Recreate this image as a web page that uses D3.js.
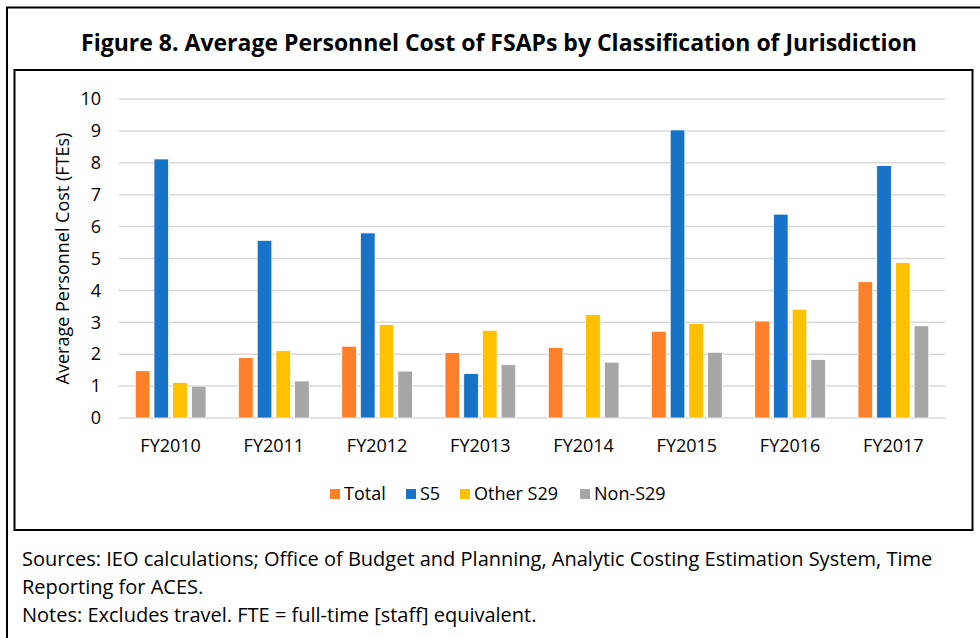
<!DOCTYPE html>
<html>
<head>
<meta charset="utf-8">
<script src="https://cdn.jsdelivr.net/npm/d3@7"></script>
<style>
  html, body { margin: 0; padding: 0; background: #fff; }
  body { width: 980px; height: 638px; overflow: hidden; }
  text { font-family: "Open Sans", "DejaVu Sans", sans-serif; fill: #000; }
</style>
</head>
<body>
<div id="chart"></div>
<script>
var categories = ["FY2010", "FY2011", "FY2012", "FY2013", "FY2014", "FY2015", "FY2016", "FY2017"];
var seriesNames = ["Total", "S5", "Other S29", "Non-S29"];
var totalValues = [1.48, 1.89, 2.25, 2.05, 2.21, 2.72, 3.04, 4.27];
var s5Values = [8.12, 5.57, 5.80, 1.39, 0, 9.03, 6.39, 7.91];
var otherS29Values = [1.11, 2.11, 2.93, 2.75, 3.24, 2.96, 3.41, 4.87];
var nonS29Values = [1.00, 1.16, 1.47, 1.67, 1.75, 2.06, 1.83, 2.89];
var yTicks = [0, 1, 2, 3, 4, 5, 6, 7, 8, 9, 10];
var noteLines = [
  "Sources: IEO calculations; Office of Budget and Planning, Analytic Costing Estimation System, Time",
  "Reporting for ACES.",
  "Notes: Excludes travel. FTE = full-time [staff] equivalent."
];

var seriesValues = [totalValues, s5Values, otherS29Values, nonS29Values];
var colors = ["#FE7F2A", "#1773C8", "#FFC000", "#A6A6A6"];

var width = 980,
  height = 638,
  plot = { left: 119, right: 945, top: 99, bottom: 418 };

var svg = d3.select("#chart").append("svg")
    .attr("width", width)
    .attr("height", height);

// outer frame (right and bottom edges fall outside the picture)
svg.append("rect")
    .attr("x", 7)
    .attr("y", 7.5)
    .attr("width", 1000)
    .attr("height", 700)
    .attr("fill", "none")
    .attr("stroke", "#000")
    .attr("stroke-width", 2);

svg.append("text")
    .attr("x", 499)
    .attr("y", 51)
    .attr("text-anchor", "middle")
    .style("font-weight", "bold")
    .style("font-size", "23px")
    .text("Figure 8. Average Personnel Cost of FSAPs by Classification of Jurisdiction");

// inner chart frame
svg.append("rect")
    .attr("x", 14.5)
    .attr("y", 70)
    .attr("width", 958)
    .attr("height", 460)
    .attr("fill", "#fff")
    .attr("stroke", "#000")
    .attr("stroke-width", 2);

var x0 = d3.scaleBand()
    .domain(categories)
    .range([plot.left, plot.right])
    .padding(0);

var x1 = d3.scaleBand()
    .domain(d3.range(seriesNames.length))
    .range([0, x0.bandwidth()])
    .paddingInner(0.22)
    .paddingOuter(0.87);

var y = d3.scaleLinear()
    .domain([0, 10])
    .range([plot.bottom, plot.top]);

// gridlines
svg.append("g")
    .selectAll("line")
    .data(yTicks)
    .enter().append("line")
      .attr("x1", plot.left)
      .attr("x2", plot.right)
      .attr("y1", function(d) { return y(d); })
      .attr("y2", function(d) { return y(d); })
      .attr("stroke", "#D9D9D9")
      .attr("stroke-width", 1.5);

var yAxis = svg.append("g")
    .attr("transform", "translate(" + (plot.left - 18) + ",0)")
    .call(d3.axisLeft(y).tickValues(yTicks).tickSize(0).tickPadding(0));
yAxis.select(".domain").remove();
yAxis.selectAll("text")
    .style("font-size", "18px")
    .attr("fill", "#000");

var xAxis = svg.append("g")
    .attr("transform", "translate(0," + (plot.bottom + 21) + ")")
    .call(d3.axisBottom(x0).tickSize(0).tickPadding(0));
xAxis.select(".domain").remove();
xAxis.selectAll("text")
    .style("font-size", "18px")
    .attr("fill", "#000");

svg.append("text")
    .attr("transform", "translate(69," + ((plot.top + plot.bottom) / 2) + ") rotate(-90)")
    .attr("text-anchor", "middle")
    .style("font-size", "18px")
    .text("Average Personnel Cost (FTEs)");

// bars
var groups = svg.append("g")
    .selectAll("g")
    .data(categories)
    .enter().append("g")
      .attr("transform", function(d) { return "translate(" + x0(d) + ",0)"; });

groups.selectAll("rect")
    .data(function(d, i) {
      return seriesValues.map(function(vals, s) { return { series: s, value: vals[i] }; });
    })
    .enter().append("rect")
      .filter(function(d) { return d.value > 0; })
      .attr("x", function(d) { return x1(d.series); })
      .attr("width", x1.bandwidth())
      .attr("y", function(d) { return y(d.value); })
      .attr("height", function(d) { return y(0) - y(d.value); })
      .attr("fill", function(d) { return colors[d.series]; })
      .attr("stroke", "#fff")
      .attr("stroke-width", 0.75);

// legend
var legendX = [330, 406, 460, 580];
var legend = svg.append("g")
    .selectAll("g")
    .data(seriesNames)
    .enter().append("g")
      .attr("transform", function(d, i) { return "translate(" + legendX[i] + ",494)"; });

legend.append("rect")
    .attr("x", 0)
    .attr("y", -5)
    .attr("width", 10)
    .attr("height", 10)
    .attr("fill", function(d, i) { return colors[i]; });

legend.append("text")
    .attr("x", 14)
    .attr("dy", "0.35em")
    .style("font-size", "18px")
    .text(function(d) { return d; });

// notes
svg.append("g")
    .selectAll("text")
    .data(noteLines)
    .enter().append("text")
      .attr("x", 22)
      .attr("y", function(d, i) { return 566 + i * 28; })
      .style("font-size", "20px")
      .text(function(d) { return d; });
</script>
</body>
</html>
